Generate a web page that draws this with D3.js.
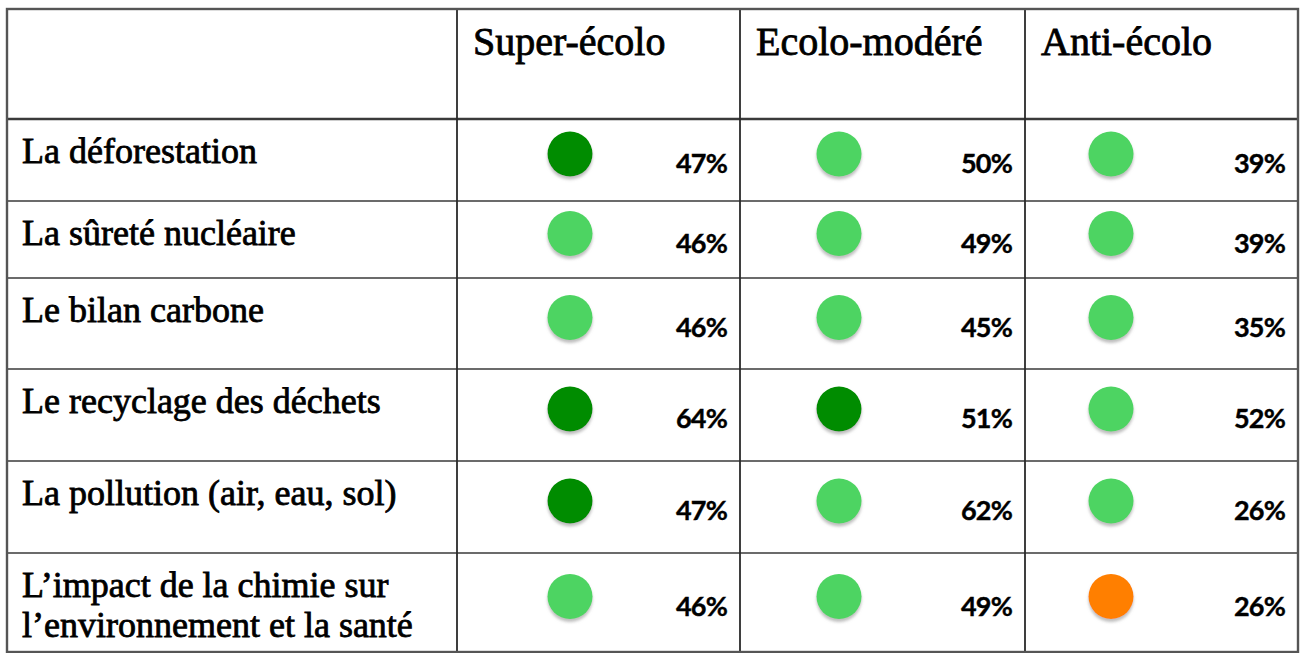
<!DOCTYPE html>
<html>
<head>
<meta charset="utf-8">
<style>
  body { margin: 0; background: #fff; }
  svg { display: block; }
</style>
<title>Préoccupations environnementales</title>
</head>
<body>
<svg id="chart"></svg>
<script src="https://cdn.jsdelivr.net/npm/d3@7"></script>
<script>

// ========== Data ==========
var groups = ['Super-écolo', 'Ecolo-modéré', 'Anti-écolo'];
var topics = [
    'La déforestation',
    'La sûreté nucléaire',
    'Le bilan carbone',
    'Le recyclage des déchets',
    'La pollution (air, eau, sol)',
    'L’impact de la chimie sur\nl’environnement et la santé'
];
// percentages, one row per topic, one column per group
var values = [
    [47, 50, 39],
    [46, 49, 39],
    [46, 45, 35],
    [64, 51, 52],
    [47, 62, 26],
    [46, 49, 26]
];
// status of each dot: 'high', 'mid', 'low'
var levels = [
    ['high', 'mid', 'mid'],
    ['mid', 'mid', 'mid'],
    ['mid', 'mid', 'mid'],
    ['high', 'high', 'mid'],
    ['high', 'mid', 'mid'],
    ['mid', 'mid', 'low']
];

// ========== Layout ==========
var W = 1303, H = 653;
var colEdges = [7, 457, 740, 1025, 1298];
var rowEdges = [9, 119, 201, 278, 369, 461, 553, 652];
var dotOffset = [113, 99, 86];   // dot centre from left edge of its column
var color = d3.scaleOrdinal()
    .domain(['high', 'mid', 'low'])
    .range(['#008c00', '#4dd462', '#ff7f00']);

var svg = d3.select('#chart')
    .attr('width', W)
    .attr('height', H);

// soft shadow under the dots
var f = svg.append('defs').append('filter')
    .attr('id', 'shadow')
    .attr('x', '-30%').attr('y', '-30%')
    .attr('width', '160%').attr('height', '160%');
f.append('feDropShadow')
    .attr('dx', 0).attr('dy', 3)
    .attr('stdDeviation', 1.6)
    .attr('flood-color', '#888')
    .attr('flood-opacity', 0.55);

// ========== Grid ==========
var grid = svg.append('g');
rowEdges.slice(1, -1).forEach(function(y) {
    grid.append('line')
        .attr('x1', colEdges[0]).attr('x2', colEdges[colEdges.length - 1])
        .attr('y1', y).attr('y2', y)
        .attr('stroke', '#3a3a3a')
        .attr('stroke-width', y == rowEdges[1] ? 2.5 : 1.6);
});
colEdges.slice(1, -1).forEach(function(x) {
    grid.append('line')
        .attr('x1', x).attr('x2', x)
        .attr('y1', rowEdges[0]).attr('y2', H)
        .attr('stroke', '#2a2a2a')
        .attr('stroke-width', 1.8);
});
grid.append('rect')
    .attr('x', colEdges[0]).attr('y', rowEdges[0])
    .attr('width', colEdges[colEdges.length - 1] - colEdges[0])
    .attr('height', rowEdges[rowEdges.length - 1] - rowEdges[0])
    .attr('fill', 'none')
    .attr('stroke', '#555')
    .attr('stroke-width', 2.4);

// ========== Header ==========
svg.selectAll('.head')
    .data(groups)
    .enter().append('text')
        .attr('class', 'head')
        .attr('x', (d, i) => colEdges[i + 1] + 16)
        .attr('y', 55)
        .attr('font-family', '"Liberation Serif", "DejaVu Serif", serif')
        .attr('font-size', 40)
        .attr('fill', '#000')
        .attr('stroke', '#000')
        .attr('stroke-width', 0.8)
        .text(d => d);

// ========== Row labels ==========
topics.forEach(function(t, r) {
    var lbl = svg.append('text')
        .attr('x', 22)
        .attr('y', rowEdges[r + 1] + 44)
        .attr('font-family', '"Liberation Serif", "DejaVu Serif", serif')
        .attr('font-size', 36)
        .attr('fill', '#000')
        .attr('stroke', '#000')
        .attr('stroke-width', 0.8);
    t.split('\n').forEach(function(line, k) {
        lbl.append('tspan')
            .attr('x', 22)
            .attr('dy', k == 0 ? 0 : 40)
            .text(line);
    });
});

// ========== Cells ==========
var cells = [];
values.forEach(function(row, r) {
    row.forEach(function(v, c) {
        cells.push({ r: r, c: c, value: v, level: levels[r][c] });
    });
});

function rowMid(r) { return (rowEdges[r + 1] + rowEdges[r + 2]) / 2; }

svg.selectAll('.dot')
    .data(cells)
    .enter().append('circle')
        .attr('class', 'dot')
        .attr('cx', d => colEdges[d.c + 1] + dotOffset[d.c])
        .attr('cy', d => rowMid(d.r) - 6)
        .attr('r', 22.5)
        .attr('fill', d => color(d.level))
        .attr('filter', 'url(#shadow)');

svg.selectAll('.pct')
    .data(cells)
    .enter().append('text')
        .attr('class', 'pct')
        .attr('x', d => colEdges[d.c + 2] - 13)
        .attr('y', d => rowMid(d.r) + 13)
        .attr('text-anchor', 'end')
        .attr('font-family', 'Lato, "Open Sans", sans-serif')
        .attr('font-weight', 'bold')
        .attr('font-size', 27)
        .attr('letter-spacing', -0.8)
        .attr('fill', '#000')
        .attr('stroke', '#000')
        .attr('stroke-width', 0.4)
        .text(d => d.value + '%');

</script>
</body>
</html>
